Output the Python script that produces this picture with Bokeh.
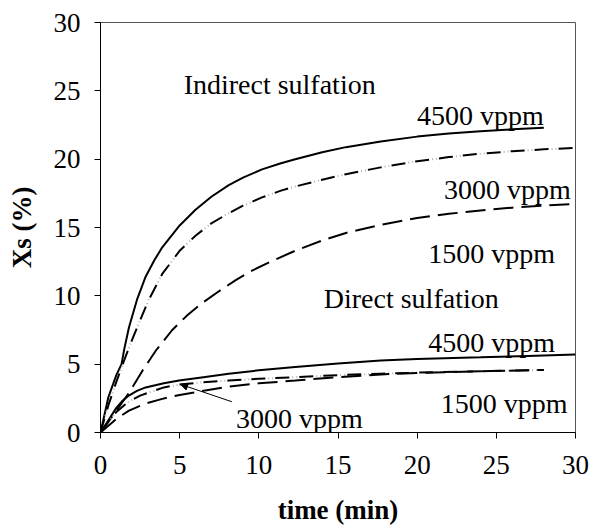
from bokeh.plotting import figure
from bokeh.models import Arrow, NormalHead, FixedTicker, Range1d, ColumnDataSource
from bokeh.core.properties import value
from bokeh.embed import file_html
from bokeh.resources import INLINE

# Sulfation conversion Xs (%) versus time (min)
ind_4500_t = [0, 0.5, 1.0, 1.33, 1.5, 1.8, 2.3, 2.85, 3.4, 3.9, 5.0, 6.0, 7.0, 8.1, 9.0,
              10.2, 11.4, 12.3, 14.0, 15.5, 17.7, 20.0, 22.0, 24.0, 26.0, 28.0]
ind_4500_x = [0, 2.6, 4.2, 5.0, 6.1, 7.7, 9.7, 11.4, 12.6, 13.55, 15.15, 16.3, 17.25, 18.1, 18.65,
              19.25, 19.7, 20.0, 20.5, 20.88, 21.3, 21.65, 21.88, 22.05, 22.18, 22.3]

ind_3000_t = [0, 0.5, 1.0, 1.5, 2.0, 2.43, 3.0, 3.9, 5.0, 6.0, 7.0, 8.1, 9.0, 10.2, 11.4,
              12.3, 14.0, 15.5, 17.7, 20.0, 22.0, 24.0, 26.0, 28.0, 30.0]
ind_3000_x = [0, 2.0, 3.7, 5.3, 6.8, 8.0, 9.6, 11.6, 13.3, 14.4, 15.3, 16.05, 16.6, 17.2, 17.7,
              18.0, 18.5, 18.9, 19.4, 19.85, 20.15, 20.4, 20.58, 20.72, 20.82]

ind_1500_t = [0, 0.5, 1.0, 1.8, 2.64, 3.5, 4.53, 5.5, 6.4, 7.5, 8.54, 9.5, 10.65, 12.3,
              14.0, 15.5, 17.7, 20.0, 22.0, 24.0, 26.0, 28.0, 30.0]
ind_1500_x = [0, 0.8, 1.6, 2.9, 4.5, 6.0, 7.5, 8.6, 9.45, 10.35, 11.15, 11.8, 12.45, 13.3,
              14.05, 14.6, 15.2, 15.7, 16.0, 16.25, 16.45, 16.6, 16.72]

dir_4500_t = [0, 0.5, 1.0, 1.37, 1.79, 2.3, 2.85, 4.0, 4.96, 6.5, 8.1, 10.0, 12.3, 15.0,
              17.7, 20.0, 24.0, 27.0, 30.0]
dir_4500_x = [0, 0.9, 1.8, 2.3, 2.7, 3.05, 3.3, 3.6, 3.8, 4.05, 4.3, 4.55, 4.8, 5.05,
              5.27, 5.38, 5.5, 5.6, 5.7]

dir_3000_t = [0, 0.5, 1.0, 1.5, 2.0, 2.5, 3.0, 4.0, 4.96, 6.5, 8.1, 10.0, 12.3, 15.0,
              17.7, 20.0, 24.0, 28.0]
dir_3000_x = [0, 0.8, 1.5, 2.0, 2.4, 2.7, 2.9, 3.3, 3.5, 3.68, 3.8, 3.93, 4.05, 4.2,
              4.3, 4.38, 4.48, 4.58]

dir_1500_t = [0, 0.5, 1.0, 1.8, 2.8, 3.9, 5.0, 6.0, 8.1, 10.0, 12.3, 15.0, 17.7, 20.0,
              24.0, 28.0]
dir_1500_x = [0, 0.5, 1.0, 1.6, 2.1, 2.46, 2.75, 2.95, 3.36, 3.6, 3.8, 4.05, 4.25, 4.35,
              4.48, 4.58]

axis_ticks = [0, 5, 10, 15, 20, 25, 30]

FONT = "Liberation Serif"
FS = "27px"
NOTE_FS = "28px"

p = figure(width=593, height=528, output_backend="svg", toolbar_location=None,
           x_range=Range1d(0, 30), y_range=Range1d(0, 30),
           min_border_left=100, min_border_right=18, min_border_top=22, min_border_bottom=96)
p.background_fill_color = "white"
p.border_fill_color = "white"
p.outline_line_color = "#555555"
p.outline_line_width = 1
p.xgrid.visible = False
p.ygrid.visible = False

for ax in (p.xaxis[0], p.yaxis[0]):
    ax.ticker = FixedTicker(ticks=axis_ticks)
    ax.minor_tick_line_color = None
    ax.major_tick_in = 0
    ax.major_tick_out = 6
    ax.axis_line_color = "black"
    ax.major_tick_line_color = "black"
    ax.major_label_text_font = FONT
    ax.major_label_text_font_size = FS
    ax.major_label_text_color = "black"
    ax.axis_label_text_font = FONT
    ax.axis_label_text_font_size = FS
    ax.axis_label_text_font_style = "bold"
    ax.axis_label_text_color = "black"

p.xaxis.axis_label = "time (min)"
p.yaxis.axis_label = "Xs (%)"
p.xaxis.major_label_standoff = 17
p.yaxis.major_label_standoff = 14
p.xaxis.axis_label_standoff = 18
p.yaxis.axis_label_standoff = 14

LW = 2

def dashdotdot(t, x):
    # long dash in black, two faint dots in each gap
    p.line(t, x, line_color="black", line_width=LW, line_dash="14 10")
    p.line(t, x, line_color="#b0b0b0", line_width=LW, line_dash="1 3 1 19",
           line_dash_offset=7)

# indirect sulfation
p.line(ind_4500_t, ind_4500_x, line_color="black", line_width=LW)
dashdotdot(ind_3000_t, ind_3000_x)
p.line(ind_1500_t, ind_1500_x, line_color="black", line_width=LW, line_dash="20 8")

# direct sulfation
p.line(dir_4500_t, dir_4500_x, line_color="black", line_width=LW)
dashdotdot(dir_3000_t, dir_3000_x)
p.line(dir_1500_t, dir_1500_x, line_color="black", line_width=LW, line_dash="20 8")

# annotations
left_src = ColumnDataSource(dict(
    x=[5.25, 14.1, 8.55],
    y=[25.5, 9.8, 1.0],
    text=["Indirect sulfation", "Direct sulfation", "3000 vppm"],
))
p.text(x="x", y="y", text="text", source=left_src, text_font=value(FONT),
       text_font_size=NOTE_FS, text_align="left", text_baseline="alphabetic",
       text_color="black")

right_src = ColumnDataSource(dict(
    x=[28.0, 29.7, 28.7, 28.7, 29.5],
    y=[23.2, 17.8, 13.1, 6.6, 2.1],
    text=["4500 vppm", "3000 vppm", "1500 vppm", "4500 vppm", "1500 vppm"],
))
p.text(x="x", y="y", text="text", source=right_src, text_font=value(FONT),
       text_font_size=NOTE_FS, text_align="right", text_baseline="alphabetic",
       text_color="black")

p.add_layout(Arrow(end=NormalHead(size=7, fill_color="black", line_color="black"),
                   x_start=8.3, y_start=2.25, x_end=5.06, y_end=3.52,
                   line_color="black", line_width=1))

open("out.html", "w").write(file_html(p, INLINE))
